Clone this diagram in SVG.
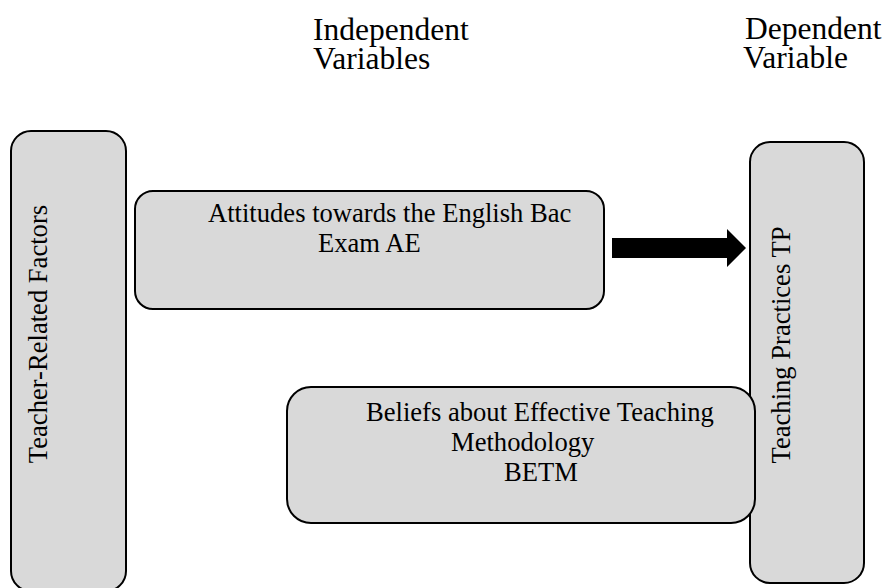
<svg xmlns="http://www.w3.org/2000/svg" width="885" height="588" viewBox="0 0 885 588">
<style>
.box{fill:#d9d9d9;stroke:#000;stroke-width:2}
.h{font-size:31.5px}
.b{font-size:26.6px}
</style>
<rect width="885" height="588" fill="#fff"/>
<g font-family="Liberation Serif, 'Times New Roman', serif" fill="#000">
<g id="header-independent"><text class="h" x="313" y="40">Independent</text><text class="h" x="313" y="69">Variables</text></g>
<g id="header-dependent"><text class="h" x="745" y="39">Dependent</text><text class="h" x="743" y="68">Variable</text></g>
<g id="teacher-related-factors"><rect class="box" x="11" y="131" width="115" height="460" rx="20"/><text class="b" text-anchor="middle" transform="translate(47,334) rotate(-90)">Teacher-Related Factors</text></g>
<g id="attitudes"><rect class="box" x="135" y="191" width="469" height="118" rx="18"/><text class="b" x="208" y="222">Attitudes towards the English Bac</text><text class="b" x="318" y="252">Exam AE</text></g>
<g id="teaching-practices"><rect class="box" x="750" y="142" width="114" height="441" rx="20"/><text class="b" text-anchor="middle" transform="translate(790,345) rotate(-90)">Teaching Practices TP</text></g>
<g id="beliefs"><rect class="box" x="287" y="387" width="468" height="136" rx="24"/><text class="b" x="366" y="421">Beliefs about Effective Teaching</text><text class="b" x="451" y="451">Methodology</text><text class="b" x="504" y="481">BETM</text></g>
</g>
<g id="connectors"><polygon points="612,238 727,238 727,229 746,248 727,267 727,258 612,258" fill="#000"/></g>
</svg>
